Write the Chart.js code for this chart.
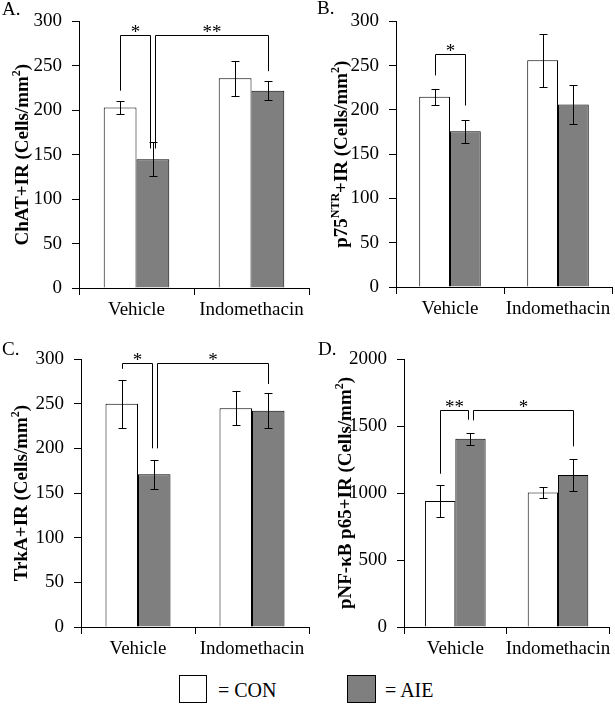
<!DOCTYPE html>
<html>
<head>
<meta charset="utf-8">
<script src="https://cdn.jsdelivr.net/npm/chart.js@4.4.1/dist/chart.umd.min.js"></script>
<style>
  body { margin: 0; background: #fff; }
  #wrap { position: relative; width: 615px; height: 704px; font-family: 'Liberation Serif', 'Times New Roman', serif; color: #000; }
  canvas { position: absolute; }
  .tag { position: absolute; font-size: 19px; line-height: 19px; }
  .box { position: absolute; border: 1px solid #000; box-sizing: border-box; }
  .key { position: absolute; font-size: 20px; line-height: 20px; }
</style>
</head>
<body>
<div id="wrap">
  <canvas id="chartA" width="312" height="330" style="left:0;top:0"></canvas>
  <canvas id="chartB" width="305" height="330" style="left:310px;top:0"></canvas>
  <canvas id="chartC" width="312" height="330" style="left:0;top:330px"></canvas>
  <canvas id="chartD" width="305" height="330" style="left:310px;top:330px"></canvas>
  <div class="tag" style="left:2px;top:-1px">A.</div>
  <div class="tag" style="left:317px;top:-2px">B.</div>
  <div class="tag" style="left:2px;top:339px">C.</div>
  <div class="tag" style="left:318px;top:339px">D.</div>
  <div class="box" style="left:179px;top:675px;width:28px;height:28px;background:#fff"></div>
  <div class="key" style="left:218px;top:680px">= CON</div>
  <div class="box" style="left:347px;top:675px;width:29px;height:28px;background:#7f7f7f"></div>
  <div class="key" style="left:385px;top:680px">= AIE</div>
</div>
<script>
const serif = "'Liberation Serif', 'Times New Roman', serif";

const categories = ['Vehicle', 'Indomethacin'];

// A. ChAT
const chatCon = [203, 236];
const chatConErr = [7.5, 20];
const chatAie = [145, 222];
const chatAieErr = [19, 11];
const chatBrackets = [
  { from: [0, 0, 222], to: [1, 0, 157], top: 285, mark: '*' },
  { from: [1, 0, 157], to: [1, 1, 244], top: 285, mark: '**' }
];

// B. p75NTR
const p75Con = [215, 256];
const p75ConErr = [9, 30];
const p75Aie = [176, 206];
const p75AieErr = [13, 22];
const p75Brackets = [
  { from: [0, 0, 239], to: [1, 0, 205], top: 263, mark: '*' }
];

// C. TrkA
const trkaCon = [250, 245];
const trkaConErr = [27, 19];
const trkaAie = [171, 242];
const trkaAieErr = [16, 19.5];
const trkaBrackets = [
  { from: [0, 0, 289], to: [1, 0, 200], top: 295, mark: '*' },
  { from: [1, 0, 200], to: [1, 1, 272], top: 295, mark: '*' }
];

// D. pNF-kB p65
const nfkbCon = [940, 1003];
const nfkbConErr = [118, 41];
const nfkbAie = [1405, 1135];
const nfkbAieErr = [45, 118];
const nfkbBrackets = [
  { from: [0, 0, 1144], to: [1, 0, 1547], top: 1622, mark: '**' },
  { from: [1, 0, 1542], to: [1, 1, 1348], top: 1622, mark: '*' }
];

const errorBars = {
  id: 'errorBars',
  afterDatasetsDraw(chart) {
    const ctx = chart.ctx, y = chart.scales.y;
    ctx.save();
    ctx.strokeStyle = '#000';
    ctx.lineWidth = 1;
    chart.data.datasets.forEach((ds, di) => {
      chart.getDatasetMeta(di).data.forEach((bar, i) => {
        const v = ds.data[i], e = ds.errors[i];
        const top = Math.round(y.getPixelForValue(v + e)) + 0.5;
        const bot = Math.round(y.getPixelForValue(v - e)) + 0.5;
        const x = Math.round(bar.x) + 0.5;
        ctx.beginPath();
        ctx.moveTo(x, top); ctx.lineTo(x, bot);
        ctx.moveTo(x - 4, top); ctx.lineTo(x + 4, top);
        ctx.moveTo(x - 4, bot); ctx.lineTo(x + 4, bot);
        ctx.stroke();
      });
    });
    ctx.restore();
  }
};

const brackets = {
  id: 'brackets',
  afterDraw(chart, args, opts) {
    const ctx = chart.ctx, y = chart.scales.y;
    const list = opts.list || [];
    // a bar shared by two brackets gets its two legs pulled apart a little
    const used = {};
    list.forEach(b => [b.from, b.to].forEach(p => {
      const k = p[0] + '-' + p[1];
      used[k] = (used[k] || 0) + 1;
    }));
    ctx.save();
    ctx.strokeStyle = '#000';
    ctx.lineWidth = 1;
    list.forEach(b => {
      const legX = (p, side) => {
        const bar = chart.getDatasetMeta(p[0]).data[p[1]];
        const shift = used[p[0] + '-' + p[1]] > 1 ? side * 2.5 : 0;
        return Math.round(bar.x + shift) + 0.5;
      };
      const x1 = legX(b.from, 1), x2 = legX(b.to, -1);
      const yt = Math.round(y.getPixelForValue(b.top)) + 0.5;
      ctx.beginPath();
      ctx.moveTo(x1, y.getPixelForValue(b.from[2]));
      ctx.lineTo(x1, yt);
      ctx.lineTo(x2, yt);
      ctx.lineTo(x2, y.getPixelForValue(b.to[2]));
      ctx.stroke();
      ctx.fillStyle = '#000';
      ctx.font = '19px ' + serif;
      ctx.textAlign = 'center';
      ctx.textBaseline = 'alphabetic';
      ctx.fillText(b.mark, (x1 + x2) / 2, yt + 2);
    });
    ctx.restore();
  }
};

const yTitle = {
  id: 'yTitle',
  afterDraw(chart, args, opts) {
    const ctx = chart.ctx, a = chart.chartArea;
    const big = 'bold 19px ' + serif, small = 'bold 12px ' + serif;
    ctx.save();
    ctx.translate(opts.x, (a.top + a.bottom) / 2);
    ctx.rotate(-Math.PI / 2);
    ctx.fillStyle = '#000';
    ctx.textBaseline = 'middle';
    ctx.textAlign = 'left';
    let w = 0;
    opts.parts.forEach(p => { ctx.font = p[1] ? small : big; w += ctx.measureText(p[0]).width; });
    let x = -w / 2;
    opts.parts.forEach(p => {
      ctx.font = p[1] ? small : big;
      ctx.fillText(p[0], x, p[1] ? -6 : 0);
      x += ctx.measureText(p[0]).width;
    });
    ctx.restore();
  }
};

function panel(id, o) {
  return new Chart(document.getElementById(id), {
    type: 'bar',
    data: {
      labels: categories,
      datasets: [
        { label: 'CON', data: o.con, errors: o.conErr, backgroundColor: '#ffffff', borderColor: '#000', borderWidth: 1 },
        { label: 'AIE', data: o.aie, errors: o.aieErr, backgroundColor: '#7f7f7f', borderColor: '#000', borderWidth: 1 }
      ]
    },
    options: {
      responsive: false,
      animation: false,
      devicePixelRatio: 1,
      layout: { padding: { top: o.top, right: o.right, left: 0, bottom: 0 } },
      datasets: { bar: { categoryPercentage: o.cat, barPercentage: 1 } },
      plugins: {
        legend: { display: false },
        tooltip: { enabled: false },
        yTitle: { x: o.titleX, parts: o.title },
        brackets: { list: o.brackets }
      },
      scales: {
        x: {
          grid: { offset: true, drawOnChartArea: false, tickLength: 7, color: '#000' },
          border: { color: '#000' },
          ticks: { color: '#000', font: { family: serif, size: 19 }, padding: 4, maxRotation: 0, minRotation: 0, autoSkip: false },
          afterFit: s => { s.height = o.xh; }
        },
        y: {
          min: 0,
          max: o.max,
          grid: { drawOnChartArea: false, tickLength: 7, color: '#000' },
          border: { color: '#000' },
          ticks: { stepSize: o.step, color: '#000', font: { family: serif, size: 19 }, padding: 10, callback: v => String(v) },
          afterFit: s => { s.width = o.yw; }
        }
      }
    },
    plugins: [errorBars, brackets, yTitle]
  });
}

panel('chartA', {
  con: chatCon, conErr: chatConErr, aie: chatAie, aieErr: chatAieErr, brackets: chatBrackets,
  max: 300, step: 50, top: 20, right: 3, yw: 79, xh: 42, cat: 0.57, titleX: 23,
  title: [['ChAT+IR (Cells/mm', false], ['2', true], [')', false]]
});
panel('chartB', {
  con: p75Con, conErr: p75ConErr, aie: p75Aie, aieErr: p75AieErr, brackets: p75Brackets,
  max: 300, step: 50, top: 20, right: 3, yw: 86, xh: 43, cat: 0.57, titleX: 32,
  title: [['p75', false], ['NTR', true], ['+IR (Cells/mm', false], ['2', true], [')', false]]
});
panel('chartC', {
  con: trkaCon, conErr: trkaConErr, aie: trkaAie, aieErr: trkaAieErr, brackets: trkaBrackets,
  max: 300, step: 50, top: 29, right: 3, yw: 81, xh: 33, cat: 0.57, titleX: 22,
  title: [['TrkA+IR (Cells/mm', false], ['2', true], [')', false]]
});
panel('chartD', {
  con: nfkbCon, conErr: nfkbConErr, aie: nfkbAie, aieErr: nfkbAieErr, brackets: nfkbBrackets,
  max: 2000, step: 500, top: 29, right: 3, yw: 94, xh: 33, cat: 0.59, titleX: 36,
  title: [['pNF-\u03baB p65+IR (Cells/mm', false], ['2', true], [')', false]]
});
</script>
</body>
</html>
